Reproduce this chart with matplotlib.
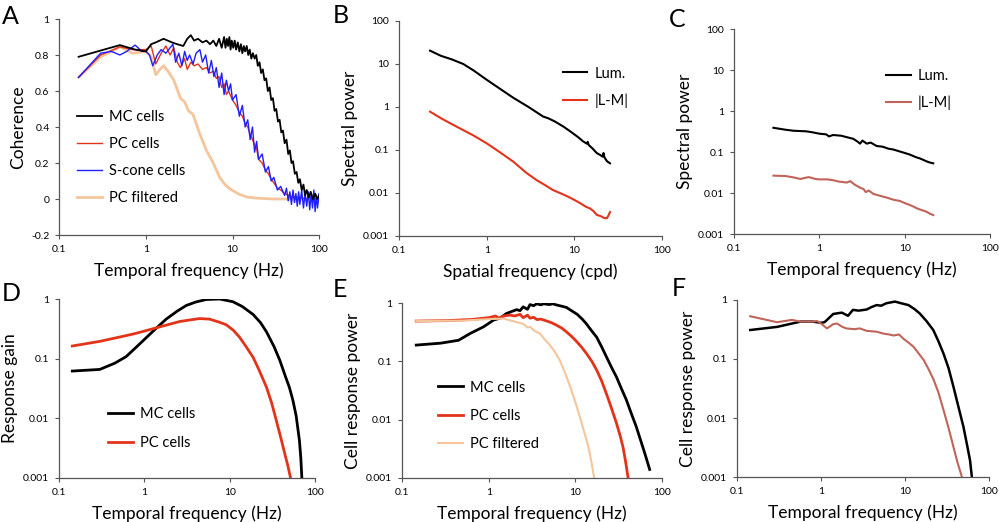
import matplotlib
matplotlib.use("Agg")
import matplotlib.pyplot as plt
from matplotlib.ticker import FixedLocator, FixedFormatter, NullLocator

plt.rcParams['font.family'] = ['Lato', 'DejaVu Sans']

RED = '#e3341a'
ROSE = '#c0645a'
TAN = '#f5c59c'
BLUE = '#1f1fff'

# --- A: coherence ---
a_mc_f = [0.167, 0.5, 0.75, 1.0, 1.15, 1.3, 1.6, 2.0, 2.3, 2.7, 3.0, 3.3, 3.6, 4.0, 4.5, 5.0, 5.5, 6.0, 6.5, 7.0,
          7.5, 8.0, 8.3, 8.6, 8.9, 9.2, 9.5, 9.8, 10.2, 10.6, 11, 11.5, 12, 12.5, 13, 13.5, 14, 14.6, 15.2, 15.8,
          16.5, 17.2, 18, 18.8, 19.6, 20.5, 21.4, 22.4, 23.4, 24.5, 25.6, 26.8, 28, 29.3, 30.6, 32, 33.5, 35, 36.6,
          38.3, 40, 42, 44, 46, 48, 50, 52.5, 55, 57.5, 60, 63, 66, 69, 72, 76, 80, 85, 90, 95, 100]
a_mc = [0.79, 0.855, 0.83, 0.82, 0.86, 0.87, 0.89, 0.87, 0.86, 0.85, 0.89, 0.91, 0.88, 0.89, 0.87, 0.88, 0.86, 0.88,
        0.85, 0.89, 0.84, 0.90, 0.84, 0.89, 0.85, 0.90, 0.83, 0.88, 0.84, 0.88, 0.83, 0.87, 0.82, 0.86, 0.81, 0.85,
        0.82, 0.85, 0.80, 0.83, 0.78, 0.81, 0.78, 0.80, 0.74, 0.76, 0.70, 0.72, 0.66, 0.67, 0.60, 0.62, 0.55, 0.56,
        0.49, 0.50, 0.43, 0.44, 0.37, 0.38, 0.31, 0.33, 0.25, 0.27, 0.20, 0.21, 0.14, 0.15, 0.09, 0.11, 0.05, 0.08,
        0.02, 0.05, 0.01, 0.04, 0.00, 0.03, 0.00, 0.02]
a_pc_f = [0.167, 0.3, 0.5, 0.7, 1.0, 1.15, 1.3, 1.5, 1.7, 1.9, 2.1, 2.3, 2.5, 2.8, 3.0, 3.3, 3.6, 4.0, 4.5, 5.0, 5.5,
          6.0, 6.5, 7.0, 7.5, 8, 8.5, 9, 10, 11, 12, 13, 14, 15, 16, 17, 18, 19, 20, 22, 24, 26, 28, 30, 33, 36, 40,
          45, 50, 60, 70, 80, 90, 100]
a_pc = [0.676, 0.80, 0.845, 0.83, 0.83, 0.85, 0.75, 0.81, 0.85, 0.80, 0.84, 0.76, 0.73, 0.78, 0.72, 0.76, 0.74, 0.75,
        0.72, 0.73, 0.70, 0.71, 0.67, 0.68, 0.62, 0.64, 0.58, 0.60, 0.55, 0.52, 0.48, 0.46, 0.42, 0.40, 0.36, 0.33,
        0.30, 0.28, 0.22, 0.20, 0.16, 0.14, 0.11, 0.09, 0.06, 0.05, 0.03, 0.02, 0.01, 0.01, 0.00, 0.01, 0.00, 0.01]
a_s_f = [0.167, 0.3, 0.4, 0.5, 0.6, 0.75, 0.9, 1.0, 1.1, 1.2, 1.35, 1.5, 1.7, 1.9, 2.05, 2.2, 2.4, 2.6, 2.8, 3.0,
         3.2, 3.5, 3.8, 4.2, 4.5, 4.9, 5.3, 5.7, 6.1, 6.5, 7.0, 7.5, 8.0, 8.5, 9.0, 9.5, 10, 11, 12, 13, 14, 15, 16,
         17, 18, 19, 20, 22, 24, 26, 28, 30, 33, 36, 40, 42, 44, 46, 48, 50, 52, 54, 56, 58, 60, 63, 66, 69, 72, 75,
         78, 81, 84, 87, 90, 93, 96, 100]
a_s = [0.676, 0.81, 0.82, 0.80, 0.82, 0.855, 0.82, 0.82, 0.80, 0.74, 0.80, 0.83, 0.81, 0.84, 0.86, 0.76, 0.81, 0.74,
       0.82, 0.77, 0.80, 0.75, 0.81, 0.83, 0.76, 0.80, 0.70, 0.77, 0.68, 0.73, 0.62, 0.70, 0.58, 0.66, 0.60, 0.64,
       0.55, 0.58, 0.46, 0.52, 0.40, 0.44, 0.33, 0.40, 0.26, 0.32, 0.22, 0.25, 0.15, 0.18, 0.10, 0.12, 0.05, 0.07,
       0.02, 0.06, -0.01, 0.04, -0.03, 0.05, -0.02, 0.03, -0.04, 0.04, -0.03, 0.05, -0.05, 0.03, -0.04, 0.04, -0.06,
       0.03, -0.05, 0.05, -0.07, 0.02, -0.05, 0.03]
a_filt_f = [0.167, 0.3, 0.5, 0.7, 1.0, 1.15, 1.3, 1.45, 1.6, 1.8, 2.1, 2.5, 2.8, 3.1, 3.5, 4.2, 5.0, 6.0, 7.1, 8.2,
            9.4, 12, 15, 20, 30, 50, 100]
a_filt = [0.676, 0.79, 0.845, 0.81, 0.82, 0.79, 0.69, 0.72, 0.74, 0.71, 0.66, 0.56, 0.54, 0.49, 0.47, 0.36, 0.27,
          0.20, 0.12, 0.08, 0.055, 0.026, 0.01, 0.004, 0.0, 0.0, 0.0]

# --- B: spatial spectra ---
b_lum_f = [0.226, 0.3, 0.4, 0.54, 0.7, 1.0, 1.4, 2.0, 3.0, 4.4, 5.0, 6.0, 7.5, 9.0, 11, 12.5, 13.9, 14.2, 14.6, 16,
           18, 20, 21, 21.5, 22, 23.5, 25.5]
b_lum = [20.4, 15.5, 12.8, 10, 7.2, 4.3, 2.7, 1.65, 1.0, 0.6, 0.55, 0.46, 0.35, 0.27, 0.2, 0.16, 0.14, 0.155, 0.13,
         0.11, 0.085, 0.075, 0.07, 0.085, 0.068, 0.055, 0.049]
b_lm_f = [0.226, 0.3, 0.4, 0.54, 0.7, 1.0, 1.4, 2.0, 2.8, 3.7, 4.7, 5.7, 7, 8.5, 10, 12, 13.5, 15, 16.5, 18, 20, 22,
          23.5, 24.5, 25.5]
b_lm = [0.78, 0.55, 0.4, 0.29, 0.22, 0.143, 0.09, 0.054, 0.03, 0.02, 0.015, 0.0117, 0.0098, 0.0082, 0.0069, 0.0056,
        0.0048, 0.0044, 0.0038, 0.0031, 0.0029, 0.0026, 0.0026, 0.003, 0.0036]

# --- C: temporal spectra ---
c_lum_f = [0.29, 0.4, 0.5, 0.7, 0.85, 1.0, 1.2, 1.3, 1.45, 1.8, 2.1, 2.5, 2.8, 3.0, 3.2, 3.6, 4.0, 4.7, 5.5, 6.5, 7.4,
           8.5, 10, 11.6, 13.5, 15, 16.6, 18.5, 20, 21.6]
c_lum = [0.39, 0.35, 0.33, 0.32, 0.30, 0.28, 0.27, 0.24, 0.26, 0.25, 0.23, 0.21, 0.18, 0.16, 0.19, 0.16, 0.17, 0.14,
         0.135, 0.12, 0.115, 0.105, 0.095, 0.086, 0.075, 0.07, 0.064, 0.058, 0.055, 0.053]
c_lm_f = [0.29, 0.4, 0.5, 0.6, 0.75, 0.9, 1.0, 1.25, 1.45, 1.7, 2.1, 2.3, 2.6, 3.0, 3.3, 3.5, 3.8, 4.3, 5.2, 6.2, 7.5,
          8.8, 10, 11.5, 12.6, 14, 16, 18, 20, 21.6]
c_lm = [0.0265, 0.026, 0.024, 0.022, 0.0245, 0.022, 0.0215, 0.0215, 0.0205, 0.019, 0.018, 0.0195, 0.016, 0.0135,
        0.0125, 0.0105, 0.0115, 0.0095, 0.0085, 0.0077, 0.0068, 0.0064, 0.0057, 0.0051, 0.0047, 0.0042, 0.0038,
        0.0035, 0.0031, 0.0029]

# --- D: response gain ---
d_mc_f = [0.143, 0.3, 0.45, 0.61, 0.8, 1.0, 1.3, 1.8, 2.4, 3.1, 4.0, 5.3, 7.6, 10.9, 14, 18.8, 23, 27, 33, 38.5, 45,
          50, 55, 60, 65.5, 68, 70]
d_mc = [0.062, 0.066, 0.084, 0.108, 0.155, 0.21, 0.3, 0.46, 0.62, 0.78, 0.89, 0.98, 1.0, 0.9, 0.75, 0.55, 0.4, 0.28,
        0.16, 0.095, 0.05, 0.033, 0.02, 0.011, 0.0043, 0.0022, 0.001]
d_pc_f = [0.143, 0.3, 0.51, 0.75, 1.0, 1.5, 2.6, 4.4, 5.8, 7.5, 9.1, 11, 13, 15.5, 18.8, 22, 27, 31, 35, 40, 44, 48,
          51.6]
d_pc = [0.163, 0.195, 0.23, 0.26, 0.29, 0.34, 0.42, 0.47, 0.46, 0.41, 0.37, 0.3, 0.23, 0.16, 0.105, 0.065, 0.033,
        0.018, 0.0094, 0.0045, 0.0026, 0.0016, 0.001]

# --- E: cell response power (spatial) ---
e_mc_f = [0.146, 0.28, 0.45, 0.61, 0.87, 1.14, 1.35, 1.6, 2.1, 2.3, 2.5, 2.8, 3.0, 3.3, 3.6, 4.0, 4.3, 5.0, 5.5, 6.0,
          7.0, 7.9, 9.0, 10.5, 12, 13.4, 15.5, 17.6, 20, 22.8, 26, 29.8, 34, 38.7, 44, 50.4, 57, 64, 72]
e_mc = [0.19, 0.205, 0.23, 0.3, 0.39, 0.51, 0.55, 0.66, 0.77, 0.74, 0.86, 0.78, 0.94, 0.9, 0.97, 0.93, 0.97, 0.94,
        0.97, 0.93, 0.88, 0.84, 0.74, 0.64, 0.53, 0.44, 0.33, 0.26, 0.18, 0.12, 0.08, 0.054, 0.034, 0.022, 0.013,
        0.0076, 0.0043, 0.0025, 0.0014]
e_pc_f = [0.146, 0.33, 0.61, 1.0, 1.2, 1.3, 1.5, 1.77, 2.0, 2.3, 2.5, 2.8, 3.0, 3.3, 3.6, 4.0, 4.7, 5.3, 6.0, 7.0, 7.9,
          9, 10.3, 11.8, 13.4, 15.5, 17.6, 20, 22.8, 26, 29.8, 33, 35.6, 38, 40.6]
e_pc = [0.49, 0.5, 0.52, 0.56, 0.6, 0.55, 0.6, 0.62, 0.6, 0.64, 0.56, 0.62, 0.55, 0.57, 0.52, 0.53, 0.49, 0.46, 0.42,
        0.37, 0.32, 0.27, 0.22, 0.175, 0.137, 0.1, 0.071, 0.047, 0.028, 0.016, 0.0087, 0.0052, 0.0033, 0.0019, 0.001]
e_filt_f = [0.146, 0.5, 1.0, 1.5, 1.8, 2.1, 2.5, 2.8, 3.0, 3.4, 3.9, 4.4, 5.1, 5.8, 6.6, 7.6, 8.7, 10, 11.3, 12.7,
            14.1, 15.3, 16.5]
e_filt = [0.49, 0.5, 0.53, 0.54, 0.5, 0.47, 0.44, 0.38, 0.39, 0.33, 0.3, 0.24, 0.19, 0.145, 0.105, 0.064, 0.037,
          0.02, 0.011, 0.006, 0.0035, 0.0019, 0.001]

# --- F: cell response power (temporal) ---
f_lum_f = [0.144, 0.3, 0.57, 0.8, 1.0, 1.1, 1.18, 1.4, 1.77, 2.1, 2.4, 2.8, 3.5, 4.0, 4.6, 5.2, 6.0, 7.6, 9.0, 11.0,
           13, 15, 18, 21.7, 25, 28.7, 33, 37.7, 43, 49.6, 55, 59.5, 62.5]
f_lum = [0.31, 0.35, 0.43, 0.43, 0.41, 0.42, 0.46, 0.58, 0.61, 0.54, 0.68, 0.66, 0.69, 0.76, 0.82, 0.8, 0.88, 0.94,
         0.88, 0.82, 0.7, 0.59, 0.44, 0.31, 0.2, 0.124, 0.07, 0.034, 0.016, 0.0071, 0.0034, 0.0019, 0.001]
f_lm_f = [0.144, 0.3, 0.45, 0.57, 0.8, 0.9, 1.0, 1.18, 1.4, 1.55, 1.8, 2.0, 2.5, 2.9, 3.5, 4.6, 5.5, 6.5, 7.3, 8.5,
          9.6, 11, 12.7, 14.5, 16.7, 19, 22, 25, 28.8, 33, 37.6, 42, 47.6]
f_lm = [0.53, 0.42, 0.46, 0.43, 0.43, 0.44, 0.40, 0.33, 0.39, 0.40, 0.35, 0.33, 0.32, 0.33, 0.3, 0.29, 0.27, 0.26,
        0.25, 0.26, 0.22, 0.19, 0.16, 0.125, 0.096, 0.068, 0.044, 0.027, 0.0135, 0.0068, 0.0033, 0.0018, 0.001]

log_x_ticks = [0.1, 1, 10, 100]
log_x_labels = ['0.1', '1', '10', '100']


def style(ax, xlabel, ylabel, yticks, ylabels, ylog=True):
    ax.set_xscale('log')
    if ylog:
        ax.set_yscale('log')
    ax.set_xlim(0.1, 100)
    ax.set_ylim(yticks[0], yticks[-1])
    ax.xaxis.set_major_locator(FixedLocator(log_x_ticks))
    ax.xaxis.set_major_formatter(FixedFormatter(log_x_labels))
    ax.yaxis.set_major_locator(FixedLocator(yticks))
    ax.yaxis.set_major_formatter(FixedFormatter(ylabels))
    ax.xaxis.set_minor_locator(NullLocator())
    ax.yaxis.set_minor_locator(NullLocator())
    for s in ['top', 'right']:
        ax.spines[s].set_visible(False)
    for s in ['left', 'bottom']:
        ax.spines[s].set_color('#555555')
        ax.spines[s].set_linewidth(0.9)
    ax.tick_params(labelsize=7.5, length=3, width=0.8, color='#555555', pad=4)
    ax.set_xlabel(xlabel, fontsize=12.5, labelpad=6)
    ax.set_ylabel(ylabel, fontsize=12.5, labelpad=4)


def legend(ax, x, y, spacing=0.9):
    ax.legend(loc='upper left', bbox_to_anchor=(x, y), frameon=False, fontsize=10.5, handlelength=1.7,
              handletextpad=0.5, labelspacing=spacing, borderaxespad=0)


fig = plt.figure(figsize=(9.99, 5.22), dpi=100)
ax_a = fig.add_axes([0.0594, 0.5498, 0.2600, 0.4138])
ax_b = fig.add_axes([0.3994, 0.5479, 0.2633, 0.4119])
ax_c = fig.add_axes([0.7347, 0.5517, 0.2563, 0.3927])
ax_d = fig.add_axes([0.0591, 0.0843, 0.2563, 0.3429])
ax_e = fig.add_axes([0.4024, 0.0843, 0.2603, 0.3352])
ax_f = fig.add_axes([0.7377, 0.0862, 0.2523, 0.3391])

# A
ax_a.plot(a_filt_f, a_filt, color=TAN, lw=2, label='PC filtered', zorder=1)
ax_a.plot(a_pc_f, a_pc, color=RED, lw=1, label='PC cells', zorder=2)
ax_a.plot(a_s_f, a_s, color=BLUE, lw=1, label='S-cone cells', zorder=3)
ax_a.plot(a_mc_f, a_mc, color='black', lw=1.3, label='MC cells', zorder=4)
style(ax_a, 'Temporal frequency (Hz)', 'Coherence', [-0.2, 0, 0.2, 0.4, 0.6, 0.8, 1],
      ['-0.2', '0', '0.2', '0.4', '0.6', '0.8', '1'], ylog=False)
h, l = ax_a.get_legend_handles_labels()
order = [3, 1, 2, 0]
ax_a.legend([h[i] for i in order], [l[i] for i in order], loc='upper left', bbox_to_anchor=(0.045, 0.605),
            frameon=False, fontsize=10.5, handlelength=1.7, handletextpad=0.5, labelspacing=0.88, borderaxespad=0)

log_y = [0.001, 0.01, 0.1, 1, 10, 100]
log_y_labels = ['0.001', '0.01', '0.1', '1', '10', '100']

# B
ax_b.plot(b_lum_f, b_lum, color='black', lw=1.5, label='Lum.')
ax_b.plot(b_lm_f, b_lm, color=RED, lw=1.5, label='|L-M|')
style(ax_b, 'Spatial frequency (cpd)', 'Spectral power', log_y, log_y_labels)
legend(ax_b, 0.6, 0.815)

# C
ax_c.plot(c_lum_f, c_lum, color='black', lw=1.5, label='Lum.')
ax_c.plot(c_lm_f, c_lm, color=ROSE, lw=1.5, label='|L-M|')
style(ax_c, 'Temporal frequency (Hz)', 'Spectral power', log_y, log_y_labels)
legend(ax_c, 0.57, 0.835)

lin3 = [0.001, 0.01, 0.1, 1]
lin3_labels = ['0.001', '0.01', '0.1', '1']

# D
ax_d.plot(d_mc_f, d_mc, color='black', lw=2, label='MC cells')
ax_d.plot(d_pc_f, d_pc, color=RED, lw=2, label='PC cells')
style(ax_d, 'Temporal frequency (Hz)', 'Response gain', lin3, lin3_labels)
legend(ax_d, 0.17, 0.43, spacing=1.05)

# E
ax_e.plot(e_mc_f, e_mc, color='black', lw=2, label='MC cells')
ax_e.plot(e_pc_f, e_pc, color=RED, lw=2, label='PC cells')
ax_e.plot(e_filt_f, e_filt, color=TAN, lw=1.5, label='PC filtered')
style(ax_e, 'Temporal frequency (Hz)', 'Cell response power', lin3, lin3_labels)
legend(ax_e, 0.115, 0.59, spacing=0.98)

# F
ax_f.plot(f_lum_f, f_lum, color='black', lw=1.8)
ax_f.plot(f_lm_f, f_lm, color=ROSE, lw=1.5)
style(ax_f, 'Temporal frequency (Hz)', 'Cell response power', lin3, lin3_labels)

for x, y, s in [(0.002, 0.99, 'A'), (0.333, 0.992, 'B'), (0.670, 0.985, 'C'),
                (0.002, 0.46, 'D'), (0.333, 0.468, 'E'), (0.672, 0.47, 'F')]:
    fig.text(x, y, s, fontsize=18, va='top', ha='left')

fig.savefig('out.png', dpi=100)
